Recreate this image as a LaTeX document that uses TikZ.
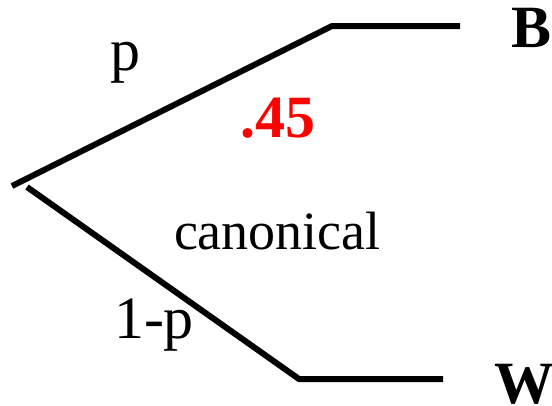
\documentclass[tikz,border=0pt]{standalone}
\usepackage{fontspec}
\setmainfont{Liberation Serif}
\begin{document}
\begin{tikzpicture}[x=1pt,y=-1pt,
  branch/.style={line width=6pt,line cap=butt,line join=miter},
  lbl/.style={inner sep=0pt,outer sep=0pt,anchor=base west}]
\useasboundingbox (0,0) rectangle (552,405);
\coordinate (r1) at (12,186);
\coordinate (r2) at (27,187);
\coordinate (u1) at (332,26);
\coordinate (u2) at (460,26);
\coordinate (d1) at (299,379);
\coordinate (d2) at (443,379);
\draw[branch] (r1) -- (u1) -- (u2);
\draw[branch] (r2) -- (d1) -- (d2);
\node[lbl,font=\fontsize{60}{60}\selectfont] (p) at (110,70.5) {p};
\node[lbl,font=\fontsize{60}{60}\selectfont\bfseries,text={rgb,255:red,255;green,0;blue,0}] (v) at (240,137.5) {.45};
\node[lbl,font=\fontsize{54}{54}\selectfont] (c) at (174,249) {canonical};
\node[lbl,font=\fontsize{60}{60}\selectfont] (q) at (114,338) {1-p};
\node[lbl,font=\fontsize{60}{60}\selectfont\bfseries] (B) at (511,47) {B};
\node[lbl,font=\fontsize{60}{60}\selectfont\bfseries] (W) at (494,403) {W};
\end{tikzpicture}
\end{document}
